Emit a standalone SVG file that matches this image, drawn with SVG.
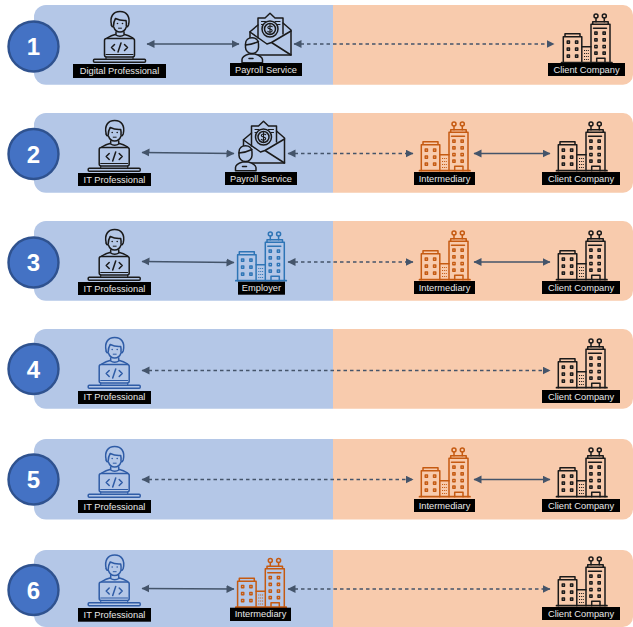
<svg xmlns="http://www.w3.org/2000/svg" width="633" height="627" viewBox="0 0 633 627">
<style>
.b{fill:#b4c7e7}.p{fill:#f8cbad}
.c{fill:#4472c4;stroke:#2f528f;stroke-width:2.4}
.n{font:bold 24px "Liberation Sans",Arial,sans-serif;fill:#fff;text-anchor:middle}
.lb{fill:#000}
.t{font:9.3px "Liberation Sans",Arial,sans-serif;fill:#e8e8e8;text-anchor:middle}
.s{stroke:#44546a;stroke-width:1.4;fill:none;marker-start:url(#a);marker-end:url(#a)}
.d{stroke:#44546a;stroke-width:1.3;fill:none;stroke-dasharray:3.500 3;marker-start:url(#a);marker-end:url(#a)}
.i{fill:none;stroke:currentColor;stroke-width:1.500;stroke-linejoin:round;stroke-linecap:round}
.f{fill:currentColor;stroke:none}
.k{color:#1a1a1a}.bl{color:#2f5ca6}.o{color:#c55a11}.e{color:#2e75b6}
</style>
<defs>
<marker id="a" markerWidth="9" markerHeight="9" refX="7.500" refY="4" orient="auto-start-reverse" markerUnits="userSpaceOnUse"><path d="M0 0L8 4L0 8z" fill="#44546a"/></marker>
<g id="person" class="i">
<path d="M111.500 25c-2-8 1.500-13.500 8.500-13.500s10.500 5.500 8.500 13.500c-.5 1.500-1.500 2-2.200 2-1 3-3.300 5-6.300 5s-5.300-2-6.300-5c-.7 0-2-.5-2.500-2z"/>
<path d="M113.500 26c0-3 .5-5 2-7.500 3 1.500 7 2.300 10.500 2 .5 2 .5 3.500.3 5.500"/>
<path d="M116 32v2.200c-3 .6-6 1.800-9 3.800M124 32v2.200c3 .6 6 1.800 9 3.800M116 35c2 1.500 6 1.500 8 0"/>
<rect x="104.500" y="38.500" width="30" height="18.500" rx="2"/>
<rect x="93.500" y="59.300" width="52" height="3" rx="1"/>
<path d="M106 57v2.300M133 57v2.300M106 54.500h27" stroke-width="1.100"/>
<path d="M114.500 44.500l-3 3 3 3M124.500 44.500l3 3-3 3M121 43l-3 9"/>
<circle class="f" cx="117.500" cy="23.500" r=".8"/><circle class="f" cx="122.500" cy="23.500" r=".8"/><path d="M118.500 28.200h3" stroke-width="1"/>
</g>
<g id="building" class="i">
<path d="M561.500 62.700h50.500" stroke-width="1.700"/>
<path d="M563.300 62.700V36.700h18.500v26M565 36.700v-3h15v3"/>
<path d="M581.800 46.700h9.200"/>
<path d="M591 62.700V24.300h19v38.400M592.700 24.300v-2.600h15.500v2.600"/>
<circle cx="596" cy="16" r="2"/><circle cx="604.300" cy="16" r="2"/><path d="M596 18v3.700M604.300 18v3.700M593.500 28.300h13" />
<path d="M596.700 62.700v-4.500h8.300v4.500"/>
<g stroke-width="1.400">
<rect x="567.200" y="41" width="2.300" height="2.300"/><rect x="575.500" y="41" width="2.300" height="2.300"/>
<rect x="567.200" y="48" width="2.300" height="2.300"/><rect x="575.500" y="48" width="2.300" height="2.300"/>
<rect x="567.200" y="55" width="2.300" height="2.300"/><rect x="575.500" y="55" width="2.300" height="2.300"/>
<rect x="594.800" y="32" width="2.300" height="2.300"/><rect x="603" y="32" width="2.300" height="2.300"/>
<rect x="594.800" y="38.700" width="2.300" height="2.300"/><rect x="603" y="38.700" width="2.300" height="2.300"/>
<rect x="594.800" y="45.400" width="2.300" height="2.300"/><rect x="603" y="45.400" width="2.300" height="2.300"/>
<rect x="594.800" y="52" width="2.300" height="2.300"/><rect x="603" y="52" width="2.300" height="2.300"/>
</g>
<path d="M584 50.500h5M584 53.500h5M584 56.500h5M584 59.500h5" stroke-width="1.200" stroke-dasharray="1 .9" stroke-linecap="butt"/>
</g>
<g id="payroll" class="i k">
<path d="M258 38V18h7l5-4.700 5 4.700h8V34"/>
<path d="M258 25l-8 6.700V45M283 23l8 7V55H257"/>
<path d="M250 32l17 12M291 31l-19.500 11.500L291 55M267 44l4.500-1.500"/>
<circle cx="270" cy="29" r="8"/><circle cx="270" cy="29" r="5.500"/>
<path d="M272.200 26.700c-1-1-4.400-1-4.400.9s4.400 1 4.400 3-3.400 1.800-4.400.8M270 24.500v9" stroke-width="1.100"/>
<path d="M261.500 21.500h4M275 21.500h5M261.500 24.500h1.500M277.500 24.500h2.500" stroke-width="1.100"/>
<path d="M245.500 44c0-4 3-6.300 6.500-6.300s6.500 2.300 6.500 6.300v3.500c0 3.300-3 6-6.500 6s-6.500-2.700-6.500-6z" fill="#b4c7e7"/>
<path d="M245.500 45c3-.3 9-1.500 13-3.500"/>
<path d="M242 62.700v-3.200c0-3 4-4.500 7-5.500h6c3 1 7 2.500 7.500 5.500v3.200z" fill="#b4c7e7"/><path d="M249 58.500h4"/>
</g>
</defs>

<g id="bands">
<path class="b" d="M46 5H333V84.700H46a12 12 0 0 1-12-12V17a12 12 0 0 1 12-12z"/><path class="p" d="M333 5H623a10 10 0 0 1 10 10V74.700a10 10 0 0 1-10 10H333z"/>
<path class="b" d="M46 113H333V192.700H46a12 12 0 0 1-12-12V125a12 12 0 0 1 12-12z"/><path class="p" d="M333 113H623a10 10 0 0 1 10 10V182.700a10 10 0 0 1-10 10H333z"/>
<path class="b" d="M46 221H333V300.700H46a12 12 0 0 1-12-12V233a12 12 0 0 1 12-12z"/><path class="p" d="M333 221H623a10 10 0 0 1 10 10V290.700a10 10 0 0 1-10 10H333z"/>
<path class="b" d="M46 329H333V408.700H46a12 12 0 0 1-12-12V341a12 12 0 0 1 12-12z"/><path class="p" d="M333 329H623a10 10 0 0 1 10 10V398.700a10 10 0 0 1-10 10H333z"/>
<path class="b" d="M46 439H333V519.500H46a12 12 0 0 1-12-12V451a12 12 0 0 1 12-12z"/><path class="p" d="M333 439H623a10 10 0 0 1 10 10V509.500a10 10 0 0 1-10 10H333z"/>
<path class="b" d="M46 550H333V627H46a12 12 0 0 1-12-12V562a12 12 0 0 1 12-12z"/><path class="p" d="M333 550H623a10 10 0 0 1 10 10V617a10 10 0 0 1-10 10H333z"/>
</g>

<g id="connectors">
<path class="s" d="M147 44H239"/><path class="d" d="M294 44H554"/>
<path class="s" d="M142 152.500L234 153.500"/><path class="d" d="M288 153.500H413"/><path class="s" d="M474 153.500H550"/>
<path class="s" d="M142 261.500L234 262.500"/><path class="d" d="M288 262H413"/><path class="s" d="M474 262H550"/>
<path class="d" d="M142 370.500H550"/>
<path class="d" d="M142 479.500H413"/><path class="s" d="M474 479.500H550"/>
<path class="s" d="M142 588.500L234 589"/><path class="d" d="M288 589H550"/>
</g>

<g id="step1"><circle class="c" cx="33.500" cy="46.500" r="25"/><text class="n" x="33.500" y="55">1</text></g>
<g id="step2"><circle class="c" cx="33.500" cy="154" r="25"/><text class="n" x="33.500" y="162.500">2</text></g>
<g id="step3"><circle class="c" cx="33.500" cy="262.500" r="25"/><text class="n" x="33.500" y="271">3</text></g>
<g id="step4"><circle class="c" cx="33.500" cy="369" r="25"/><text class="n" x="33.500" y="377.500">4</text></g>
<g id="step5"><circle class="c" cx="33.500" cy="479.500" r="25"/><text class="n" x="33.500" y="488">5</text></g>
<g id="step6"><circle class="c" cx="33.500" cy="590" r="25"/><text class="n" x="33.500" y="598.500">6</text></g>

<g id="r1-pro"><use href="#person" class="k"/><rect class="lb" x="73" y="64" width="93" height="14"/><text class="t" x="119.500" y="73.500">Digital Professional</text></g>
<g id="r1-pay"><use href="#payroll"/><rect class="lb" x="230" y="63" width="72" height="13"/><text class="t" x="266" y="73">Payroll Service</text></g>
<g id="r1-cli"><use href="#building" class="k"/><rect class="lb" x="548" y="63" width="77" height="13"/><text class="t" x="586.500" y="73">Client Company</text></g>

<g id="r2-pro"><use href="#person" class="k" transform="translate(-5.300 109)"/><rect class="lb" x="78" y="173" width="73" height="13"/><text class="t" x="114.500" y="183">IT Professional</text></g>
<g id="r2-pay"><use href="#payroll" transform="translate(-6.500 108)"/><rect class="lb" x="225" y="172" width="72" height="13"/><text class="t" x="261" y="182">Payroll Service</text></g>
<g id="r2-int"><use href="#building" class="o" transform="translate(-142 108)"/><rect class="lb" x="414" y="172" width="61" height="13"/><text class="t" x="444.500" y="182">Intermediary</text></g>
<g id="r2-cli"><use href="#building" class="k" transform="translate(-5 108)"/><rect class="lb" x="542" y="172" width="78" height="13"/><text class="t" x="581" y="182">Client Company</text></g>

<g id="r3-pro"><use href="#person" class="k" transform="translate(-5.300 218)"/><rect class="lb" x="78" y="282" width="73" height="13"/><text class="t" x="114.500" y="292">IT Professional</text></g>
<g id="r3-emp"><use href="#building" class="e" transform="translate(-325.700 218)"/><rect class="lb" x="238" y="281.700" width="47" height="13"/><text class="t" x="261.500" y="290.500">Employer</text></g>
<g id="r3-int"><use href="#building" class="o" transform="translate(-142 217)"/><rect class="lb" x="414" y="281" width="61" height="13"/><text class="t" x="444.500" y="291">Intermediary</text></g>
<g id="r3-cli"><use href="#building" class="k" transform="translate(-5 217)"/><rect class="lb" x="542" y="281" width="78" height="13"/><text class="t" x="581" y="291">Client Company</text></g>

<g id="r4-pro"><use href="#person" class="bl" transform="translate(-5.300 326)"/><rect class="lb" x="78" y="391" width="73" height="13"/><text class="t" x="114.500" y="400">IT Professional</text></g>
<g id="r4-cli"><use href="#building" class="k" transform="translate(-5 325)"/><rect class="lb" x="542" y="390" width="78" height="13"/><text class="t" x="581" y="400">Client Company</text></g>

<g id="r5-pro"><use href="#person" class="bl" transform="translate(-5.300 435)"/><rect class="lb" x="78" y="500" width="73" height="13"/><text class="t" x="114.500" y="510">IT Professional</text></g>
<g id="r5-int"><use href="#building" class="o" transform="translate(-142 434)"/><rect class="lb" x="414" y="499" width="61" height="13"/><text class="t" x="444.500" y="509">Intermediary</text></g>
<g id="r5-cli"><use href="#building" class="k" transform="translate(-5 434)"/><rect class="lb" x="542" y="499" width="78" height="13"/><text class="t" x="581" y="509">Client Company</text></g>

<g id="r6-pro"><use href="#person" class="bl" transform="translate(-5.300 543.500)"/><rect class="lb" x="78" y="608" width="73" height="13.700"/><text class="t" x="114.500" y="618">IT Professional</text></g>
<g id="r6-int"><use href="#building" class="o" transform="translate(-325.700 544.500)"/><rect class="lb" x="230" y="607.700" width="61" height="13.300"/><text class="t" x="260.500" y="617">Intermediary</text></g>
<g id="r6-cli"><use href="#building" class="k" transform="translate(-5 543)"/><rect class="lb" x="542" y="607" width="78" height="13"/><text class="t" x="581" y="617">Client Company</text></g>
</svg>
